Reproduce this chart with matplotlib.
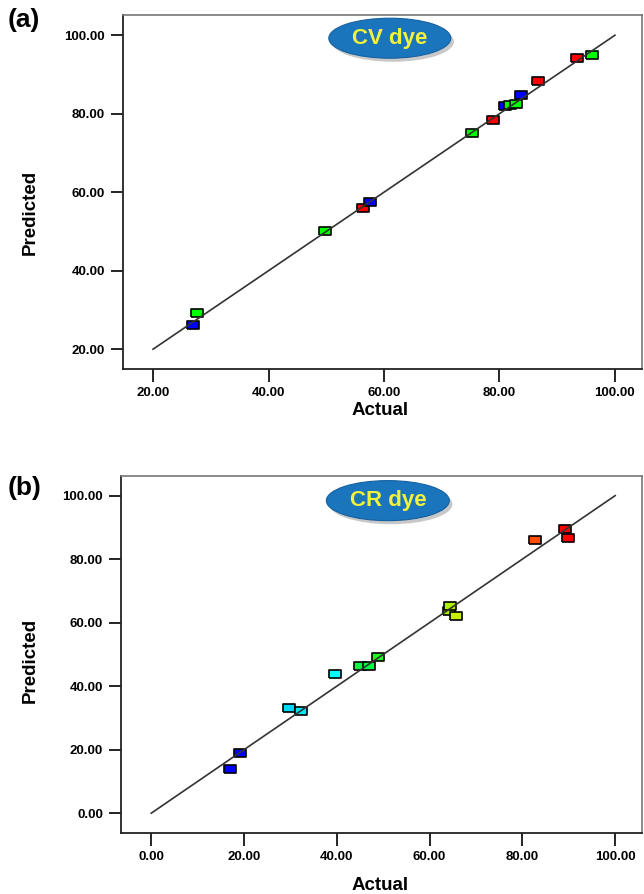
import matplotlib
matplotlib.use("Agg")
import matplotlib.pyplot as plt
from matplotlib.patches import Ellipse

plt.rcParams['font.family'] = ['Liberation Sans', 'DejaVu Sans']

# CV dye (panel a)
cv_actual = [27.6, 27.0, 49.7, 56.4, 57.6, 75.2, 78.8, 81.0, 81.9, 82.8, 83.8, 86.7, 93.5, 96.1]
cv_pred = [29.2, 26.2, 50.1, 56.0, 57.4, 75.2, 78.4, 82.0, 82.3, 82.4, 84.7, 88.3, 94.3, 95.0]
cv_colors = ['#00ff00', '#0000ff', '#00ff00', '#ff0000', '#0000ff', '#00ff00', '#ff0000',
             '#0000ff', '#00ff00', '#00ff00', '#0000ff', '#ff0000', '#ff0000', '#00ff00']

# CR dye (panel b)
cr_actual = [17.0, 19.2, 29.6, 32.3, 39.7, 45.0, 47.0, 48.8, 64.1, 64.4, 65.7, 82.8, 89.2, 89.9]
cr_pred = [14.0, 19.1, 33.2, 32.2, 43.7, 46.3, 46.3, 49.3, 63.6, 65.2, 62.0, 85.9, 89.4, 86.6]
cr_colors = ['#0000ff', '#0000ff', '#00d8f8', '#00e8f8', '#00ffff', '#00ff40', '#00ff40',
             '#20ff20', '#a8f000', '#b0f000', '#c8f000', '#ff5000', '#ff0000', '#ff0000']

cv_ticks = [20, 40, 60, 80, 100]
cr_ticks = [0, 20, 40, 60, 80, 100]

rect = [(-1.5, -1), (1.5, -1), (1.5, 1), (-1.5, 1), (-1.5, -1)]

fig = plt.figure(figsize=(6.44, 8.94), dpi=100)


def panel(pos, xs, ys, cols, ticks, xlim, ylim, line, tag, ell):
    ax = fig.add_axes(pos)
    for x, y, c in zip(xs, ys, cols):
        ax.plot(x, y, marker=rect, markersize=9, markerfacecolor=c,
                markeredgecolor='black', markeredgewidth=1.2, linestyle='none', zorder=3)
    ax.plot(line, line, color='#333333', lw=1.2, zorder=4)
    ax.set_xlim(xlim)
    ax.set_ylim(ylim)
    ax.set_xticks(ticks)
    ax.set_yticks(ticks)
    ax.set_xticklabels(['%.2f' % t for t in ticks], fontsize=9.5, fontweight='bold')
    ax.set_yticklabels(['%.2f' % t for t in ticks], fontsize=9.5, fontweight='bold')
    ax.tick_params(direction='out', length=9, width=1.2, pad=4)
    for s in ['left', 'bottom']:
        ax.spines[s].set_linewidth(1.3)
        ax.spines[s].set_color('#222222')
    for s in ['top', 'right']:
        ax.spines[s].set_linewidth(1.2)
        ax.spines[s].set_color('#777777')
    cx, cy, w, h = ell
    ax.add_patch(Ellipse((cx + 0.006, cy - 0.010), w, h, transform=ax.transAxes,
                         facecolor='#c8c8c8', edgecolor='none', zorder=5))
    ax.add_patch(Ellipse((cx, cy), w, h, transform=ax.transAxes,
                         facecolor='#1a75bc', edgecolor='#1560a0', lw=0.8, zorder=6))
    ax.text(cx, cy, tag, transform=ax.transAxes, ha='center', va='center',
            fontsize=16, fontweight='bold', color='#f2f23a', zorder=7)
    return ax


panel([0.191, 0.587, 0.806, 0.396], cv_actual, cv_pred, cv_colors, cv_ticks,
      (14.8, 104.7), (14.9, 105.1), [20, 100], 'CV dye', (0.514, 0.935, 0.235, 0.113))
panel([0.188, 0.068, 0.809, 0.400], cr_actual, cr_pred, cr_colors, cr_ticks,
      (-6.5, 105.8), (-6.3, 106.3), [0, 100], 'CR dye', (0.512, 0.930, 0.236, 0.112))

fig.text(0.59, 1 - 410 / 894, 'Actual', ha='center', va='center', fontsize=13.5, fontweight='bold')
fig.text(0.59, 1 - 885 / 894, 'Actual', ha='center', va='center', fontsize=13.5, fontweight='bold')
fig.text(30 / 644, 1 - 212 / 894, 'Predicted', ha='center', va='center', rotation=90,
         fontsize=13.5, fontweight='bold')
fig.text(30 / 644, 1 - 660 / 894, 'Predicted', ha='center', va='center', rotation=90,
         fontsize=13.5, fontweight='bold')
fig.text(8 / 644, 1 - 20 / 894, '(a)', ha='left', va='center', fontsize=19, fontweight='bold')
fig.text(8 / 644, 1 - 488 / 894, '(b)', ha='left', va='center', fontsize=19, fontweight='bold')

fig.savefig('out.png', dpi=100)
